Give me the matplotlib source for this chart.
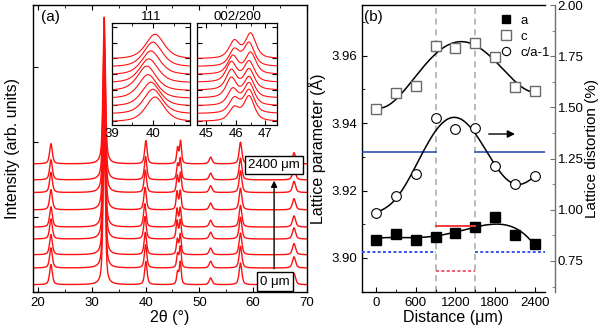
import numpy as np
import matplotlib.pyplot as plt
from matplotlib.ticker import MultipleLocator, FormatStrFormatter, NullFormatter

plt.rcParams['font.family'] = ['Liberation Sans', 'DejaVu Sans']
plt.rcParams['font.size'] = 9.5
plt.rcParams['xtick.direction'] = 'in'
plt.rcParams['ytick.direction'] = 'in'
plt.rcParams['xtick.major.size'] = 3.5
plt.rcParams['ytick.major.size'] = 3.5
plt.rcParams['xtick.minor.size'] = 2
plt.rcParams['ytick.minor.size'] = 2
plt.rcParams['axes.linewidth'] = 1.0

# ---- lattice parameters along the sample ----
distance = [0, 300, 600, 900, 1200, 1500, 1800, 2100, 2400]
a_param = [3.9054, 3.9072, 3.9054, 3.9062, 3.9074, 3.9091, 3.9121, 3.9067, 3.9042]
c_param = [3.9441, 3.9490, 3.9511, 3.9627, 3.9622, 3.9637, 3.9596, 3.9508, 3.9496]
distortion = [0.984, 1.068, 1.173, 1.448, 1.395, 1.398, 1.213, 1.124, 1.164]

zone_edges = [900, 1500]
ref_outer_solid = 1.282   # blue, outside the zone
ref_outer_dotted = 0.794
ref_inner_solid = 0.920   # red, inside the zone
ref_inner_dotted = 0.700

# ---- XRD patterns (bottom trace = 0 um, top = 2400 um) ----
trace_offsets = [0.093, 0.316, 0.493, 0.703, 0.863, 1.093, 1.324, 1.493, 1.707]
fixed_peaks = [22.4, 32.3, 52.1, 57.65, 67.6]
fixed_heights = [0.27, 1.96, 0.09, 0.29, 0.15]
fixed_hwhm = [0.3, 0.26, 0.32, 0.3, 0.34]
pos_111 = [40.05, 40.0, 39.95, 39.88, 39.85, 39.9, 39.95, 40.0, 40.05]
h_111 = [0.31, 0.31, 0.30, 0.30, 0.31, 0.30, 0.30, 0.31, 0.31]
pos_002 = [45.95, 45.95, 45.9, 45.85, 45.85, 45.85, 45.9, 45.95, 45.95]
pos_200 = [46.45, 46.45, 46.45, 46.45, 46.45, 46.45, 46.5, 46.45, 46.5]
h_002 = [0.16, 0.18, 0.20, 0.24, 0.24, 0.24, 0.22, 0.20, 0.21]
h_200 = [0.30, 0.28, 0.27, 0.25, 0.25, 0.25, 0.26, 0.28, 0.30]


def pv(x, x0, h, w, eta=0.6):
    lor = 1.0 / (1.0 + ((x - x0) / w) ** 2)
    gau = np.exp(-np.log(2) * ((x - x0) / w) ** 2)
    return h * (eta * lor + (1 - eta) * gau)


def pattern(tt, i):
    tt = np.asarray(tt, dtype=float)
    y = np.zeros_like(tt)
    for p, h, w in zip(fixed_peaks, fixed_heights, fixed_hwhm):
        y += pv(tt, p, h, w)
    y += pv(tt, pos_111[i], h_111[i], 0.27)
    y += pv(tt, pos_002[i], h_002[i], 0.21)
    y += pv(tt, pos_200[i], h_200[i], 0.21)
    return y


fig = plt.figure(figsize=(6.0, 3.29), dpi=100)
ax = fig.add_axes([0.0545, 0.1134, 0.457, 0.8714])

tt = np.linspace(19, 70, 3000)
for i, off in enumerate(trace_offsets):
    ax.plot(tt, pattern(tt, i) + off, color='#ff1010', lw=1.0)

ax.set_xlim(19, 70)
ax.set_ylim(0, 3.83)
ax.xaxis.set_major_locator(MultipleLocator(10))
ax.xaxis.set_minor_locator(MultipleLocator(5))
ax.yaxis.set_major_locator(MultipleLocator(1))
ax.yaxis.set_major_formatter(NullFormatter())
ax.tick_params(top=True, which='both')
ax.set_xlabel('2θ (°)', fontsize=11.5, labelpad=1)
ax.set_ylabel('Intensity (arb. units)', fontsize=11.5, labelpad=6)
ax.text(0.03, 0.958, '(a)', transform=ax.transAxes, fontsize=11, va='center')

box = dict(boxstyle='square,pad=0.25', fc='white', ec='black', lw=1)
ax.text(63.9, 1.69, '2400 μm', ha='center', va='center', fontsize=9.5, bbox=box)
ax.text(64.0, 0.135, '0 μm', ha='center', va='center', fontsize=9.5, bbox=box)
ax.annotate('', xy=(63.9, 1.52), xytext=(63.9, 0.27),
            arrowprops=dict(arrowstyle='-|>', color='black', lw=1, mutation_scale=9))

# insets: 111 and 002/200 reflections
insets = [([0.1862, 0.620, 0.1305, 0.310], (39, 40.9), '111', 10.3),
          ([0.3288, 0.620, 0.1333, 0.310], (44.7, 47.4), '002/200', 10.5)]
for rect, lim, title, scale in insets:
    ins = fig.add_axes(rect)
    t = np.linspace(lim[0], lim[1], 400)
    for i in range(len(trace_offsets)):
        base = pattern([lim[0]], i)[0]
        ins.plot(t, (pattern(t, i) - base) * scale + i * 1.0, color='#ff1010', lw=0.8)
    ins.set_xlim(*lim)
    ins.set_ylim(-0.5, 12.5)
    ins.xaxis.set_major_locator(MultipleLocator(1))
    ins.xaxis.set_minor_locator(MultipleLocator(0.5))
    ins.yaxis.set_major_locator(MultipleLocator(2))
    ins.yaxis.set_major_formatter(NullFormatter())
    ins.tick_params(which='both', top=True, right=True, pad=2, labelsize=9.5)
    ins.set_title(title, fontsize=9.5, pad=2)
    for s in ins.spines.values():
        s.set_linewidth(0.9)

# ---- right panel ----
bx = fig.add_axes([0.6028, 0.1134, 0.3055, 0.8714])
bx2 = bx.twinx()

xs = np.linspace(0, 2400, 300)
xd = np.array(distance) / 1000.0

for x0 in zone_edges:
    bx.axvline(x0, color='#a8a8a8', ls=(0, (4, 3)), lw=1.1, zorder=1)

xl = (-215, 2550)
bx2.plot([xl[0], zone_edges[0]], [ref_outer_solid] * 2, color='#2040b0', lw=1.1)
bx2.plot([zone_edges[1], xl[1]], [ref_outer_solid] * 2, color='#2040b0', lw=1.1)
bx2.plot([xl[0], zone_edges[0]], [ref_outer_dotted] * 2, color='#3355ee', lw=1.4, ls=(0, (1.5, 1.2)))
bx2.plot([zone_edges[1], xl[1]], [ref_outer_dotted] * 2, color='#3355ee', lw=1.4, ls=(0, (1.5, 1.2)))
bx2.plot(zone_edges, [ref_inner_solid] * 2, color='#f03a3a', lw=1.4)
bx2.plot(zone_edges, [ref_inner_dotted] * 2, color='#e8304a', lw=1.1, ls=(0, (2, 1.5)))

# polynomial fits through the measured points
fit_a = np.polyval(np.polyfit(xd, a_param, 4), xs / 1000.0)
fit_c = np.polyfit(xd, c_param, 4)
fit_d = np.polyfit(xd, distortion, 6)
bx.plot(xs, fit_a, color='black', lw=1.1)
bx.plot(xs, np.polyval(fit_c, xs / 1000.0), color='black', lw=1.1)
bx2.plot(xs, np.polyval(fit_d, xs / 1000.0), color='black', lw=1.1)

ha, = bx.plot(distance, a_param, 's', ms=7.5, mfc='black', mec='black', label='a', zorder=5)
hc, = bx.plot(distance, c_param, 's', ms=7.8, mfc='white', mec='#6a6a6a', mew=1.0, label='c', zorder=5)
hd, = bx2.plot(distance, distortion, 'o', ms=7, mfc='white', mec='black', mew=0.8, label='c/a-1', zorder=5)

bx2.annotate('', xy=(2140, 1.37), xytext=(1660, 1.37),
             arrowprops=dict(arrowstyle='-|>', color='black', lw=1, mutation_scale=11))

bx.set_xlim(*xl)
bx.set_ylim(3.890, 3.975)
bx2.set_ylim(0.6, 2.0)
bx.xaxis.set_major_locator(MultipleLocator(600))
bx.xaxis.set_minor_locator(MultipleLocator(300))
bx.yaxis.set_major_locator(MultipleLocator(0.02))
bx.yaxis.set_minor_locator(MultipleLocator(0.01))
bx.yaxis.set_major_formatter(FormatStrFormatter('%.2f'))
bx2.yaxis.set_major_locator(MultipleLocator(0.25))
bx2.yaxis.set_minor_locator(MultipleLocator(0.125))
bx2.yaxis.set_major_formatter(FormatStrFormatter('%.2f'))
bx.tick_params(which='both', top=False, right=False)
bx2.spines['right'].set_position(('outward', 7))
bx2.spines['right'].set_color('#707070')
bx2.tick_params(which='both', color='#707070', pad=2)
bx2.spines['top'].set_visible(False)
bx2.spines['left'].set_visible(False)
bx2.spines['bottom'].set_visible(False)
bx.spines['right'].set_visible(False)

bx.set_xlabel('Distance (μm)', fontsize=11.5, labelpad=1)
bx.set_ylabel('Lattice parameter (Å)', fontsize=11.5, labelpad=4)
bx2.set_ylabel('Lattice distortion (%)', fontsize=11, labelpad=1)
bx.text(0.01, 0.958, '(b)', transform=bx.transAxes, fontsize=11, va='center')

bx2.legend([ha, hc, hd], ['a', 'c', 'c/a-1'], loc='upper left', bbox_to_anchor=(0.715, 0.99),
           frameon=False, handlelength=1.0, handletextpad=0.6, labelspacing=0.3,
           borderpad=0, fontsize=9.5, markerscale=0.85)

fig.savefig('out.png', dpi=100)
